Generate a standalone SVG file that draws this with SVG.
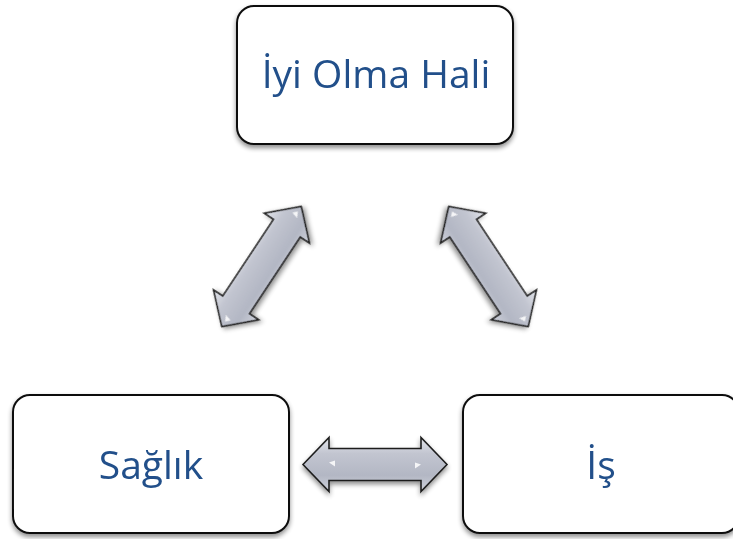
<svg xmlns="http://www.w3.org/2000/svg" width="733" height="539" viewBox="0 0 733 539">
  <defs>
    <filter id="sh" x="-10%" y="-10%" width="120%" height="130%">
      <feGaussianBlur in="SourceAlpha" stdDeviation="2.5"/>
      <feOffset dx="0" dy="3" result="b"/>
      <feComponentTransfer><feFuncA type="linear" slope="0.45"/></feComponentTransfer>
      <feMerge><feMergeNode/><feMergeNode in="SourceGraphic"/></feMerge>
    </filter>
    <linearGradient id="ag" x1="0" y1="0" x2="0" y2="1">
      <stop offset="0" stop-color="#e3e5eb"/>
      <stop offset="0.3" stop-color="#c2c5d0"/>
      <stop offset="0.7" stop-color="#b3b7c4"/>
      <stop offset="1" stop-color="#cfd2db"/>
    </linearGradient>
    <path id="arrow" d="M-72,0 L-46,-27 L-46,-16 L46,-16 L46,-27 L72,0 L46,27 L46,16 L-46,16 L-46,27 Z"/>
  </defs>
  <style>
    .box { fill: #ffffff; stroke: #111111; stroke-width: 2; }
    .lbl { font-family: "Open Sans", "Noto Sans", "Liberation Sans", sans-serif; fill: #21508a; text-anchor: middle; }
    .arr { fill: url(#ag); stroke: #1e1e1e; stroke-width: 1.6; stroke-linejoin: miter; }
    .hl { fill: #ffffff; opacity: 0.85; }
  </style>

  <g id="connectors">
    <g id="arrow-left" transform="translate(261.5,266.5) rotate(-56.5)" filter="url(#sh)">
      <use href="#arrow" class="arr"/>
      <path class="hl" d="M62,-4 L66,0 L60,3 Z"/>
      <path class="hl" d="M-62,4 L-66,0 L-60,-3 Z"/>
    </g>
    <g id="arrow-right" transform="translate(488.5,266.5) rotate(56.5)" filter="url(#sh)">
      <use href="#arrow" class="arr"/>
      <path class="hl" d="M62,-4 L66,0 L60,3 Z"/>
      <path class="hl" d="M-62,4 L-66,0 L-60,-3 Z"/>
    </g>
    <g id="arrow-bottom" transform="translate(375,464.5)" filter="url(#sh)">
      <use href="#arrow" class="arr"/>
      <path class="hl" d="M40,-2 L46,0 L40,4 Z"/>
      <path class="hl" d="M-40,-4 L-46,-2 L-40,2 Z"/>
    </g>
  </g>

  <g id="node-iyi-olma-hali" filter="url(#sh)">
    <rect class="box" x="237" y="6" width="276" height="138" rx="17"/>
    <text class="lbl" x="376" y="88" font-size="39">İyi Olma Hali</text>
  </g>
  <g id="node-saglik" filter="url(#sh)">
    <rect class="box" x="13" y="395" width="276" height="138" rx="17"/>
    <text class="lbl" x="151" y="479" font-size="39">Sağlık</text>
  </g>
  <g id="node-is" filter="url(#sh)">
    <rect class="box" x="463" y="395" width="276" height="138" rx="17"/>
    <text class="lbl" x="601" y="479" font-size="39">İş</text>
  </g>
</svg>
